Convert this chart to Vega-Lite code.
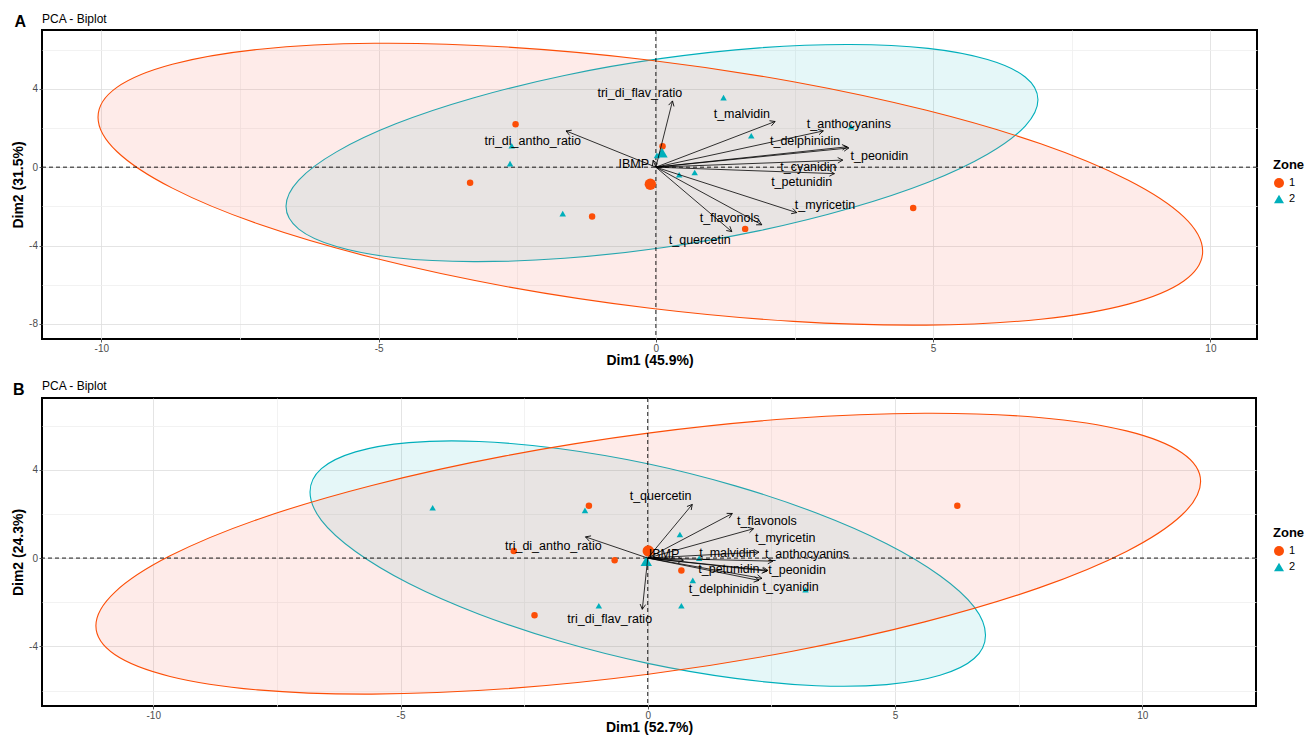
{
  "$schema": "https://vega.github.io/schema/vega-lite/v6.json",
  "background": "white",
  "padding": {"left": 10, "top": 11, "right": 5, "bottom": 5},
  "spacing": 10,
  "config": {
    "font": "Liberation Sans",
    "view": {"stroke": "black", "strokeWidth": 2},
    "axis": {"domain": false, "labelColor": "#4D4D4D", "labelFontSize": 10, "tickSize": 3, "tickWidth": 0.8, "titleFontSize": 14, "titleFontWeight": "bold", "titleColor": "black", "gridWidth": 0.8, "labelPadding": 1.5, "titlePadding": 0},
    "legend": {"titleFontSize": 13, "titleFontWeight": "bold", "titleColor": "black", "labelFontSize": 11, "labelColor": "black", "symbolSize": 100, "rowPadding": 5},
    "text": {"font": "Liberation Sans"}
  },
  "datasets": {
    "ellA": [
      {"zone": "1", "i": 0, "x": 9.86, "y": -4.29}, {"zone": "1", "i": 1, "x": 9.52, "y": -2.54}, {"zone": "1", "i": 2, "x": 8.52, "y": -0.67}, {"zone": "1", "i": 3, "x": 6.94, "y": 1.19},
      {"zone": "1", "i": 4, "x": 4.88, "y": 2.90}, {"zone": "1", "i": 5, "x": 2.48, "y": 4.36}, {"zone": "1", "i": 6, "x": -0.10, "y": 5.46}, {"zone": "1", "i": 7, "x": -2.68, "y": 6.13},
      {"zone": "1", "i": 8, "x": -5.08, "y": 6.32}, {"zone": "1", "i": 9, "x": -7.14, "y": 6.02}, {"zone": "1", "i": 10, "x": -8.72, "y": 5.25}, {"zone": "1", "i": 11, "x": -9.72, "y": 4.07},
      {"zone": "1", "i": 12, "x": -10.06, "y": 2.55}, {"zone": "1", "i": 13, "x": -9.72, "y": 0.80}, {"zone": "1", "i": 14, "x": -8.72, "y": -1.07}, {"zone": "1", "i": 15, "x": -7.14, "y": -2.93},
      {"zone": "1", "i": 16, "x": -5.08, "y": -4.64}, {"zone": "1", "i": 17, "x": -2.68, "y": -6.10}, {"zone": "1", "i": 18, "x": -0.10, "y": -7.20}, {"zone": "1", "i": 19, "x": 2.48, "y": -7.87},
      {"zone": "1", "i": 20, "x": 4.88, "y": -8.06}, {"zone": "1", "i": 21, "x": 6.94, "y": -7.76}, {"zone": "1", "i": 22, "x": 8.52, "y": -6.99}, {"zone": "1", "i": 23, "x": 9.52, "y": -5.81},
      {"zone": "2", "i": 0, "x": 6.89, "y": 3.44}, {"zone": "2", "i": 1, "x": 6.66, "y": 4.60}, {"zone": "2", "i": 2, "x": 5.98, "y": 5.49}, {"zone": "2", "i": 3, "x": 4.91, "y": 6.06},
      {"zone": "2", "i": 4, "x": 3.50, "y": 6.26}, {"zone": "2", "i": 5, "x": 1.87, "y": 6.09}, {"zone": "2", "i": 6, "x": 0.11, "y": 5.55}, {"zone": "2", "i": 7, "x": -1.65, "y": 4.68},
      {"zone": "2", "i": 8, "x": -3.28, "y": 3.54}, {"zone": "2", "i": 9, "x": -4.69, "y": 2.21}, {"zone": "2", "i": 10, "x": -5.76, "y": 0.78}, {"zone": "2", "i": 11, "x": -6.44, "y": -0.66},
      {"zone": "2", "i": 12, "x": -6.67, "y": -2.00}, {"zone": "2", "i": 13, "x": -6.44, "y": -3.16}, {"zone": "2", "i": 14, "x": -5.76, "y": -4.05}, {"zone": "2", "i": 15, "x": -4.69, "y": -4.62},
      {"zone": "2", "i": 16, "x": -3.28, "y": -4.82}, {"zone": "2", "i": 17, "x": -1.65, "y": -4.65}, {"zone": "2", "i": 18, "x": 0.11, "y": -4.11}, {"zone": "2", "i": 19, "x": 1.87, "y": -3.24},
      {"zone": "2", "i": 20, "x": 3.50, "y": -2.10}, {"zone": "2", "i": 21, "x": 4.91, "y": -0.77}, {"zone": "2", "i": 22, "x": 5.98, "y": 0.66}, {"zone": "2", "i": 23, "x": 6.66, "y": 2.10}
    ],
    "indA": [
      {"zone": "1", "x": -2.53, "y": 2.19}, {"zone": "1", "x": 0.12, "y": 1.07}, {"zone": "1", "x": -3.35, "y": -0.80}, {"zone": "1", "x": -1.15, "y": -2.52}, {"zone": "1", "x": 1.61, "y": -3.15}, {"zone": "1", "x": 4.64, "y": -2.09},
      {"zone": "2", "x": 1.22, "y": 3.55}, {"zone": "2", "x": 1.72, "y": 1.60}, {"zone": "2", "x": 3.52, "y": 2.06}, {"zone": "2", "x": -2.60, "y": 1.09}, {"zone": "2", "x": -2.63, "y": 0.18},
      {"zone": "2", "x": -1.68, "y": -2.37}, {"zone": "2", "x": 0.42, "y": -0.39}, {"zone": "2", "x": 0.70, "y": -0.27}, {"zone": "2", "x": 0.02, "y": 0.60}
    ],
    "meanA": [{"zone": "1", "x": -0.10, "y": -0.87}, {"zone": "2", "x": 0.11, "y": 0.74}],
    "varA": [
      {"name": "tri_di_flav_ratio", "x": 0.30, "y": 3.38, "lx": -0.29, "ly": 3.78},
      {"name": "tri_di_antho_ratio", "x": -1.62, "y": 1.85, "lx": -2.22, "ly": 1.34},
      {"name": "IBMP", "x": -0.05, "y": 0.35, "lx": -0.40, "ly": 0.15},
      {"name": "t_malvidin", "x": 2.15, "y": 2.33, "lx": 1.55, "ly": 2.70},
      {"name": "t_anthocyanins", "x": 3.02, "y": 1.85, "lx": 3.48, "ly": 2.19},
      {"name": "t_delphinidin", "x": 3.45, "y": 1.04, "lx": 2.69, "ly": 1.34},
      {"name": "t_peonidin", "x": 3.48, "y": 0.98, "lx": 4.03, "ly": 0.56},
      {"name": "t_cyanidin", "x": 3.37, "y": 0.36, "lx": 2.75, "ly": 0.02},
      {"name": "t_petunidin", "x": 3.22, "y": -0.33, "lx": 2.63, "ly": -0.78},
      {"name": "t_myricetin", "x": 2.54, "y": -2.32, "lx": 3.05, "ly": -1.92},
      {"name": "t_flavonols", "x": 1.91, "y": -2.94, "lx": 1.33, "ly": -2.57},
      {"name": "t_quercetin", "x": 1.37, "y": -3.29, "lx": 0.79, "ly": -3.73}
    ],
    "ellB": [
      {"zone": "1", "i": 0, "x": 11.18, "y": 3.47}, {"zone": "1", "i": 1, "x": 10.80, "y": 4.77}, {"zone": "1", "i": 2, "x": 9.68, "y": 5.76}, {"zone": "1", "i": 3, "x": 7.91, "y": 6.37},
      {"zone": "1", "i": 4, "x": 5.60, "y": 6.56}, {"zone": "1", "i": 5, "x": 2.90, "y": 6.32}, {"zone": "1", "i": 6, "x": 0.01, "y": 5.66}, {"zone": "1", "i": 7, "x": -2.88, "y": 4.63},
      {"zone": "1", "i": 8, "x": -5.58, "y": 3.29}, {"zone": "1", "i": 9, "x": -7.89, "y": 1.75}, {"zone": "1", "i": 10, "x": -9.66, "y": 0.10}, {"zone": "1", "i": 11, "x": -10.78, "y": -1.55},
      {"zone": "1", "i": 12, "x": -11.16, "y": -3.07}, {"zone": "1", "i": 13, "x": -10.78, "y": -4.37}, {"zone": "1", "i": 14, "x": -9.66, "y": -5.36}, {"zone": "1", "i": 15, "x": -7.89, "y": -5.97},
      {"zone": "1", "i": 16, "x": -5.58, "y": -6.16}, {"zone": "1", "i": 17, "x": -2.88, "y": -5.92}, {"zone": "1", "i": 18, "x": 0.01, "y": -5.26}, {"zone": "1", "i": 19, "x": 2.90, "y": -4.23},
      {"zone": "1", "i": 20, "x": 5.60, "y": -2.89}, {"zone": "1", "i": 21, "x": 7.91, "y": -1.35}, {"zone": "1", "i": 22, "x": 9.68, "y": 0.30}, {"zone": "1", "i": 23, "x": 10.80, "y": 1.95},
      {"zone": "2", "i": 0, "x": 6.83, "y": -3.49}, {"zone": "2", "i": 1, "x": 6.60, "y": -2.21}, {"zone": "2", "i": 2, "x": 5.91, "y": -0.80}, {"zone": "2", "i": 3, "x": 4.83, "y": 0.65},
      {"zone": "2", "i": 4, "x": 3.41, "y": 2.04}, {"zone": "2", "i": 5, "x": 1.77, "y": 3.27}, {"zone": "2", "i": 6, "x": 0.00, "y": 4.27}, {"zone": "2", "i": 7, "x": -1.77, "y": 4.95},
      {"zone": "2", "i": 8, "x": -3.41, "y": 5.28}, {"zone": "2", "i": 9, "x": -4.83, "y": 5.23}, {"zone": "2", "i": 10, "x": -5.91, "y": 4.81}, {"zone": "2", "i": 11, "x": -6.60, "y": 4.05},
      {"zone": "2", "i": 12, "x": -6.83, "y": 2.99}, {"zone": "2", "i": 13, "x": -6.60, "y": 1.71}, {"zone": "2", "i": 14, "x": -5.91, "y": 0.30}, {"zone": "2", "i": 15, "x": -4.83, "y": -1.15},
      {"zone": "2", "i": 16, "x": -3.41, "y": -2.54}, {"zone": "2", "i": 17, "x": -1.77, "y": -3.77}, {"zone": "2", "i": 18, "x": 0.00, "y": -4.77}, {"zone": "2", "i": 19, "x": 1.77, "y": -5.45},
      {"zone": "2", "i": 20, "x": 3.41, "y": -5.78}, {"zone": "2", "i": 21, "x": 4.83, "y": -5.73}, {"zone": "2", "i": 22, "x": 5.91, "y": -5.31}, {"zone": "2", "i": 23, "x": 6.60, "y": -4.55}
    ],
    "indB": [
      {"zone": "1", "x": -1.19, "y": 2.37}, {"zone": "1", "x": -2.71, "y": 0.32}, {"zone": "1", "x": -0.67, "y": -0.10}, {"zone": "1", "x": 0.68, "y": -0.56}, {"zone": "1", "x": -2.29, "y": -2.59}, {"zone": "1", "x": 6.26, "y": 2.37},
      {"zone": "2", "x": -1.27, "y": 2.16}, {"zone": "2", "x": -4.35, "y": 2.28}, {"zone": "2", "x": 0.65, "y": 1.07}, {"zone": "2", "x": 1.04, "y": -0.01},
      {"zone": "2", "x": 0.91, "y": -1.01}, {"zone": "2", "x": 3.19, "y": -1.43}, {"zone": "2", "x": -0.99, "y": -2.16}, {"zone": "2", "x": 0.68, "y": -2.16}
    ],
    "meanB": [{"zone": "1", "x": 0.01, "y": 0.32}, {"zone": "2", "x": -0.03, "y": -0.14}],
    "varB": [
      {"name": "t_quercetin", "x": 0.90, "y": 2.43, "lx": 0.26, "ly": 2.81},
      {"name": "t_flavonols", "x": 1.71, "y": 2.02, "lx": 2.41, "ly": 1.67},
      {"name": "t_myricetin", "x": 2.14, "y": 1.33, "lx": 2.78, "ly": 0.92},
      {"name": "t_malvidin", "x": 2.25, "y": 0.27, "lx": 1.61, "ly": 0.24},
      {"name": "t_anthocyanins", "x": 2.53, "y": -0.14, "lx": 3.22, "ly": 0.20},
      {"name": "t_petunidin", "x": 2.41, "y": -0.59, "lx": 1.64, "ly": -0.51},
      {"name": "t_peonidin", "x": 2.43, "y": -0.56, "lx": 3.02, "ly": -0.56},
      {"name": "t_cyanidin", "x": 2.31, "y": -0.92, "lx": 2.89, "ly": -1.31},
      {"name": "t_delphinidin", "x": 2.25, "y": -1.01, "lx": 1.54, "ly": -1.42},
      {"name": "tri_di_antho_ratio", "x": -1.26, "y": 0.96, "lx": -1.91, "ly": 0.54},
      {"name": "tri_di_flav_ratio", "x": -0.11, "y": -2.32, "lx": -0.77, "ly": -2.74},
      {"name": "IBMP", "x": 0.72, "y": -0.10, "lx": 0.33, "ly": 0.17}
    ]
  },
  "vconcat": [
    {
      "width": 1215,
      "height": 309,
      "title": {"text": "PCA - Biplot", "anchor": "start", "frame": "group", "fontSize": 12, "fontWeight": "normal", "color": "black", "offset": -11.5},
      "layer": [
        {
          "data": {"name": "ellA"},
          "transform": [{"filter": "datum.zone === '2'"}],
          "mark": {"type": "line", "interpolate": "cardinal-closed", "strokeWidth": 1.1, "stroke": "#00AFBB", "fill": "#00AFBB", "fillOpacity": 0.1},
          "encoding": {
            "x": {"field": "x", "type": "quantitative", "scale": {"domain": [-11.07, 10.84], "nice": false, "zero": false},
              "axis": {"title": "Dim1 (45.9%)", "values": [-10, -7.5, -5, -2.5, 0, 2.5, 5, 7.5, 10], "labelExpr": "datum.value % 5 === 0 ? '' + datum.value : ''",
                "gridColor": {"condition": {"test": "datum.value % 5 !== 0", "value": "#EFEFEF"}, "value": "#DDDDDD"},
                "tickColor": {"condition": {"test": "datum.value % 5 !== 0", "value": "transparent"}, "value": "#333333"}}},
            "y": {"field": "y", "type": "quantitative", "scale": {"domain": [-8.77, 7.0], "nice": false, "zero": false},
              "axis": {"title": "Dim2 (31.5%)", "values": [-8, -6, -4, -2, 0, 2, 4, 6], "labelExpr": "datum.value % 4 === 0 ? '' + datum.value : ''", "titlePadding": 3,
                "gridColor": {"condition": {"test": "datum.value % 4 !== 0", "value": "#EFEFEF"}, "value": "#DDDDDD"},
                "tickColor": {"condition": {"test": "datum.value % 4 !== 0", "value": "transparent"}, "value": "#333333"}}},
            "order": {"field": "i", "type": "quantitative"}
          }
        },
        {
          "data": {"name": "ellA"},
          "transform": [{"filter": "datum.zone === '1'"}],
          "mark": {"type": "line", "interpolate": "cardinal-closed", "strokeWidth": 1.1, "stroke": "#FC4E07", "fill": "#F8766D", "fillOpacity": 0.15},
          "encoding": {
            "x": {"field": "x", "type": "quantitative"},
            "y": {"field": "y", "type": "quantitative"},
            "order": {"field": "i", "type": "quantitative"}
          }
        },
        {"data": {"values": [{}]}, "mark": {"type": "rule", "color": "black", "strokeWidth": 0.9, "strokeDash": [4, 3]}, "encoding": {"x": {"datum": 0}}},
        {"data": {"values": [{}]}, "mark": {"type": "rule", "color": "black", "strokeWidth": 0.9, "strokeDash": [4, 3]}, "encoding": {"y": {"datum": 0}}},
        {
          "data": {"name": "indA"},
          "mark": {"type": "point", "filled": true, "opacity": 1, "size": 42},
          "encoding": {
            "x": {"field": "x", "type": "quantitative"},
            "y": {"field": "y", "type": "quantitative"},
            "color": {"field": "zone", "type": "nominal", "scale": {"domain": ["1", "2"], "range": ["#FC4E07", "#00AFBB"]}, "legend": {"title": "Zone", "orient": "none", "legendX": 1231, "legendY": 129}},
            "shape": {"field": "zone", "type": "nominal", "scale": {"domain": ["1", "2"], "range": ["circle", "triangle-up"]}, "legend": {"title": "Zone", "orient": "none", "legendX": 1231, "legendY": 129}}
          }
        },
        {
          "data": {"name": "meanA"},
          "mark": {"type": "point", "filled": true, "opacity": 1, "size": 130},
          "encoding": {
            "x": {"field": "x", "type": "quantitative"},
            "y": {"field": "y", "type": "quantitative"},
            "color": {"field": "zone", "type": "nominal"},
            "shape": {"field": "zone", "type": "nominal"}
          }
        },
        {
          "data": {"name": "varA"},
          "mark": {"type": "rule", "color": "black", "strokeWidth": 0.8},
          "encoding": {"x": {"field": "x", "type": "quantitative"}, "y": {"field": "y", "type": "quantitative"}, "x2": {"datum": 0}, "y2": {"datum": 0}}
        },
        {
          "data": {"name": "varA"},
          "transform": [{"calculate": "atan2(datum.x * 55.45, datum.y * 19.59) * 180 / PI", "as": "ang"}],
          "mark": {"type": "point", "shape": "M-0.55,1L0,0L0.55,1", "filled": false, "stroke": "black", "strokeWidth": 0.8, "size": 100, "opacity": 1},
          "encoding": {"x": {"field": "x", "type": "quantitative"}, "y": {"field": "y", "type": "quantitative"}, "angle": {"field": "ang", "type": "quantitative", "scale": null}}
        },
        {
          "data": {"name": "varA"},
          "mark": {"type": "text", "fontSize": 12.5, "color": "black", "align": "center", "baseline": "middle"},
          "encoding": {"x": {"field": "lx", "type": "quantitative"}, "y": {"field": "ly", "type": "quantitative"}, "text": {"field": "name"}}
        },
        {
          "data": {"values": [{"t": "A"}]},
          "mark": {"type": "text", "fontSize": 16, "fontWeight": "bold", "color": "black", "align": "center", "baseline": "middle", "clip": false},
          "encoding": {"x": {"datum": -11.46}, "y": {"datum": 7.40}, "text": {"field": "t"}}
        }
      ]
    },
    {
      "width": 1214,
      "height": 308,
      "title": {"text": "PCA - Biplot", "anchor": "start", "frame": "group", "fontSize": 12, "fontWeight": "normal", "color": "black", "offset": -11.5},
      "layer": [
        {
          "data": {"name": "ellB"},
          "transform": [{"filter": "datum.zone === '2'"}],
          "mark": {"type": "line", "interpolate": "cardinal-closed", "strokeWidth": 1.1, "stroke": "#00AFBB", "fill": "#00AFBB", "fillOpacity": 0.1},
          "encoding": {
            "x": {"field": "x", "type": "quantitative", "scale": {"domain": [-12.25, 12.3], "nice": false, "zero": false},
              "axis": {"title": "Dim1 (52.7%)", "values": [-10, -7.5, -5, -2.5, 0, 2.5, 5, 7.5, 10], "labelExpr": "datum.value % 5 === 0 ? '' + datum.value : ''",
                "gridColor": {"condition": {"test": "datum.value % 5 !== 0", "value": "#EFEFEF"}, "value": "#DDDDDD"},
                "tickColor": {"condition": {"test": "datum.value % 5 !== 0", "value": "transparent"}, "value": "#333333"}}},
            "y": {"field": "y", "type": "quantitative", "scale": {"domain": [-6.7, 7.25], "nice": false, "zero": false},
              "axis": {"title": "Dim2 (24.3%)", "values": [-6, -4, -2, 0, 2, 4, 6], "labelExpr": "datum.value % 4 === 0 ? '' + datum.value : ''", "titlePadding": 3,
                "gridColor": {"condition": {"test": "datum.value % 4 !== 0", "value": "#EFEFEF"}, "value": "#DDDDDD"},
                "tickColor": {"condition": {"test": "datum.value % 4 !== 0", "value": "transparent"}, "value": "#333333"}}},
            "order": {"field": "i", "type": "quantitative"}
          }
        },
        {
          "data": {"name": "ellB"},
          "transform": [{"filter": "datum.zone === '1'"}],
          "mark": {"type": "line", "interpolate": "cardinal-closed", "strokeWidth": 1.1, "stroke": "#FC4E07", "fill": "#F8766D", "fillOpacity": 0.15},
          "encoding": {
            "x": {"field": "x", "type": "quantitative"},
            "y": {"field": "y", "type": "quantitative"},
            "order": {"field": "i", "type": "quantitative"}
          }
        },
        {"data": {"values": [{}]}, "mark": {"type": "rule", "color": "black", "strokeWidth": 0.9, "strokeDash": [4, 3]}, "encoding": {"x": {"datum": 0}}},
        {"data": {"values": [{}]}, "mark": {"type": "rule", "color": "black", "strokeWidth": 0.9, "strokeDash": [4, 3]}, "encoding": {"y": {"datum": 0}}},
        {
          "data": {"name": "indB"},
          "mark": {"type": "point", "filled": true, "opacity": 1, "size": 42},
          "encoding": {
            "x": {"field": "x", "type": "quantitative"},
            "y": {"field": "y", "type": "quantitative"},
            "color": {"field": "zone", "type": "nominal", "scale": {"domain": ["1", "2"], "range": ["#FC4E07", "#00AFBB"]}, "legend": {"title": "Zone", "orient": "none", "legendX": 1231, "legendY": 129}},
            "shape": {"field": "zone", "type": "nominal", "scale": {"domain": ["1", "2"], "range": ["circle", "triangle-up"]}, "legend": {"title": "Zone", "orient": "none", "legendX": 1231, "legendY": 129}}
          }
        },
        {
          "data": {"name": "meanB"},
          "mark": {"type": "point", "filled": true, "opacity": 1, "size": 130},
          "encoding": {
            "x": {"field": "x", "type": "quantitative"},
            "y": {"field": "y", "type": "quantitative"},
            "color": {"field": "zone", "type": "nominal"},
            "shape": {"field": "zone", "type": "nominal"}
          }
        },
        {
          "data": {"name": "varB"},
          "mark": {"type": "rule", "color": "black", "strokeWidth": 0.8},
          "encoding": {"x": {"field": "x", "type": "quantitative"}, "y": {"field": "y", "type": "quantitative"}, "x2": {"datum": 0}, "y2": {"datum": 0}}
        },
        {
          "data": {"name": "varB"},
          "transform": [{"calculate": "atan2(datum.x * 49.45, datum.y * 22.08) * 180 / PI", "as": "ang"}],
          "mark": {"type": "point", "shape": "M-0.55,1L0,0L0.55,1", "filled": false, "stroke": "black", "strokeWidth": 0.8, "size": 100, "opacity": 1},
          "encoding": {"x": {"field": "x", "type": "quantitative"}, "y": {"field": "y", "type": "quantitative"}, "angle": {"field": "ang", "type": "quantitative", "scale": null}}
        },
        {
          "data": {"name": "varB"},
          "mark": {"type": "text", "fontSize": 12.5, "color": "black", "align": "center", "baseline": "middle"},
          "encoding": {"x": {"field": "lx", "type": "quantitative"}, "y": {"field": "ly", "type": "quantitative"}, "text": {"field": "name"}}
        },
        {
          "data": {"values": [{"t": "B"}]},
          "mark": {"type": "text", "fontSize": 16, "fontWeight": "bold", "color": "black", "align": "center", "baseline": "middle", "clip": false},
          "encoding": {"x": {"datum": -12.72}, "y": {"datum": 7.63}, "text": {"field": "t"}}
        }
      ]
    }
  ],
  "resolve": {
    "scale": {"x": "independent", "y": "independent", "color": "independent", "shape": "independent"},
    "legend": {"color": "independent", "shape": "independent"}
  }
}
